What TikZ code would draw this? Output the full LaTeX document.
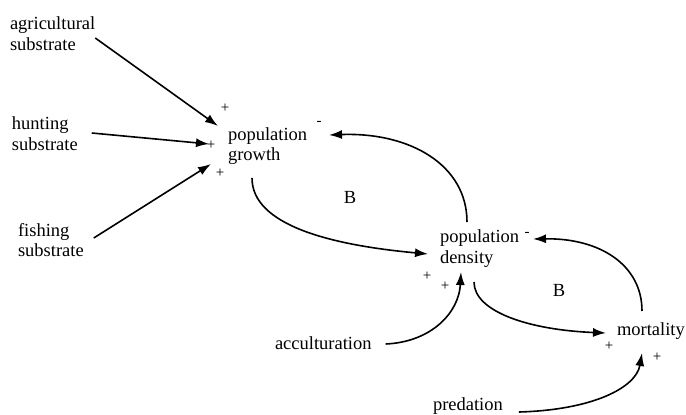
\documentclass[tikz,border=0pt]{standalone}
\usepackage{fontspec}
\setmainfont{Liberation Serif}
\usetikzlibrary{arrows.meta}
\begin{document}
\begin{tikzpicture}[x=1pt,y=-1pt,
  lbl/.style={anchor=west,inner sep=0pt,outer sep=0pt,align=left,
    font=\fontsize{18.5}{20.5}\selectfont},
  sgn/.style={inner sep=0pt,font=\fontsize{15}{16}\selectfont},
  loopmark/.style={inner sep=0pt,font=\fontsize{18.5}{20}\selectfont},
  arr/.style={line width=1.6pt,-{Latex[length=13pt,width=9pt]}}]
\fill[white] (0,0) rectangle (686,415);
\useasboundingbox (0,0) rectangle (686,415);
\node[lbl] (agri) at (10,33.5) {agricultural\\substrate};
\node[lbl] (hunt) at (12,133.5) {hunting\\substrate};
\node[lbl] (fish) at (18,240) {fishing\\substrate};
\node[lbl] (growth) at (228,146) {population\\growth};
\node[lbl] (dens) at (440,248.5) {population\\density};
\node[lbl] (mort) at (617,331) {mortality};
\node[lbl] (accult) at (275,343) {acculturation};
\node[lbl] (pred) at (433,406) {predation};
\node[loopmark] (b1) at (350,197) {B};
\node[loopmark] (b2) at (559,290) {B};
\node[sgn] (s1) at (225,108) {+};
\node[sgn] (s2) at (211,145) {+};
\node[sgn] (s3) at (220,173) {+};
\node[sgn] (s4) at (319,123) {-};
\node[sgn] (s5) at (527,234) {-};
\node[sgn] (s6) at (427,276) {+};
\node[sgn] (s7) at (445,286) {+};
\node[sgn] (s8) at (609,346) {+};
\node[sgn] (s9) at (657,357) {+};
\draw[arr] ([shift={(0,4.5)}]agri.east) -- ([shift={(-10,-20)}]growth.west);
\draw[arr] ([shift={(14,-0.5)}]hunt.east) -- ([shift={(-19,-2)}]growth.west);
\draw[arr] ([shift={(10,-2)}]fish.east) -- ([shift={(-17,18)}]growth.west);
\draw[arr] ([shift={(24,32)}]growth.west) .. controls (252,225) and (330,245) .. ([shift={(-12,5.5)}]dens.west);
\draw[arr] ([shift={(27,-26.5)}]dens.west) .. controls (467,165) and (410,132) .. ([shift={(101,-11)}]growth.west);
\draw[arr] ([shift={(34,33.5)}]dens.west) .. controls (474,312) and (530,330) .. ([shift={(-11,2)}]mort.west);
\draw[arr] ([shift={(25,-20)}]mort.west) .. controls (642,265) and (600,238) .. ([shift={(93,-9.5)}]dens.west);
\draw[arr] ([shift={(14,1)}]accult.east) .. controls (432,342) and (459,312) .. ([shift={(21,23.5)}]dens.west);
\draw[arr] ([shift={(16,6)}]pred.east) .. controls (592,410) and (636,388) .. ([shift={(25,22)}]mort.west);
\end{tikzpicture}
\end{document}
